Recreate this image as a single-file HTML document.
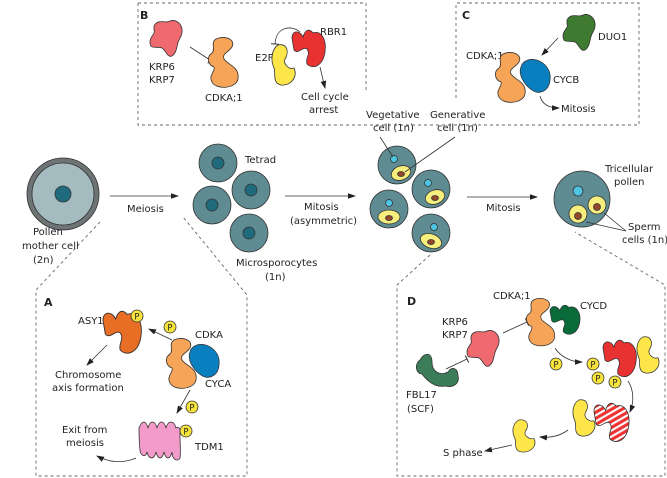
<!DOCTYPE html>
<html><head><meta charset="utf-8"><style>
html,body{margin:0;padding:0;background:#fff}
svg{display:block}
text{font-family:"DejaVu Sans","Liberation Sans",sans-serif;font-size:10px;fill:#222}
.b{font-weight:bold;font-size:11px}
.p{font-size:8.5px;text-anchor:middle}
.d{fill:none;stroke:#666;stroke-width:0.9;stroke-dasharray:3,3}
.l{fill:none;stroke:#333;stroke-width:0.8}
.s{stroke:#333;stroke-width:0.8}
</style></head><body>
<svg width="667" height="478" viewBox="0 0 667 478" xmlns="http://www.w3.org/2000/svg">
<defs>
<marker id="ar" markerWidth="8" markerHeight="8" refX="7" refY="4" orient="auto" markerUnits="userSpaceOnUse"><path d="M0,1.2 L8,4 L0,6.8 Z" fill="#222"/></marker>
<marker id="inh" markerWidth="2" markerHeight="8" refX="1" refY="4" orient="auto" markerUnits="userSpaceOnUse"><path d="M1,0 L1,8" stroke="#333" stroke-width="1"/></marker>
<path id="cdk" d="M8,2 C16,-2 28,2 24,10 C20,16 14,16 16,22 C20,28 32,30 30,42 C28,52 8,53 4,45 C0,38 8,34 6,30 C0,28 -2,20 4,16 C8,12 2,6 8,2 Z"/>
<path id="cyc" d="M8,0 C18,-3 32,6 30,20 C29,32 18,35 12,30 C4,25 -2,14 1,7 C2,3 5,1 8,0 Z"/>
<path id="krp" d="M4,6 C8,-2 16,4 20,1 C28,-2 36,8 30,18 C26,24 28,32 22,36 C17,38 16,30 12,28 C6,26 0,30 0,22 C0,16 6,14 4,10 Z"/>
<path id="rbr" d="M0,8 C0,0 8,0 11,7 C13,0 17,-2 21,3 C28,0 35,8 33,22 C31,36 21,40 15,34 C13,28 19,25 15,19 C11,16 6,25 2,20 Z"/>
<path id="e2f" d="M6,0 C16,-2 17,8 13,14 C11,19 17,25 22,23 C26,32 19,41 9,40 C0,38 4,29 2,23 C-2,14 0,4 6,0 Z"/>
<pattern id="hatch" width="5" height="5" patternUnits="userSpaceOnUse" patternTransform="rotate(-30)"><rect width="5" height="5" fill="#e33"/><rect y="0" width="5" height="2" fill="#fff"/></pattern>
</defs>

<path class="d" d="M138,3 L366,3 L366,90 M138,3 L138,125 L639,125 L639,3 L456,3 L456,100"/>
<path class="d" d="M100,222 L36,290 L36,476 L247,476 L247,295 L183,217"/>
<path class="d" d="M430,255 L397,285 L397,476 L665,476 L665,285 L575,232"/>

<circle cx="63" cy="194" r="36" fill="#6e7375" class="s"/>
<circle cx="63" cy="194" r="31" fill="#a4bcc0" class="s"/>
<circle cx="63" cy="194" r="8" fill="#1f6a7d" class="s"/>
<text x="33" y="235">Pollen</text><text x="22" y="249">mother cell</text><text x="33" y="263">(2n)</text>

<line class="l" x1="110" y1="196" x2="178" y2="196" marker-end="url(#ar)"/>
<text x="127" y="212">Meiosis</text>

<g fill="#5f8b92" class="s">
<circle cx="218" cy="163" r="19"/><circle cx="251" cy="190" r="19"/><circle cx="212" cy="205" r="19"/><circle cx="249" cy="233" r="19"/></g>
<g fill="#1f6a7d" class="s">
<circle cx="218" cy="163" r="6"/><circle cx="251" cy="190" r="6"/><circle cx="212" cy="205" r="6"/><circle cx="249" cy="233" r="6"/></g>
<text x="245" y="163">Tetrad</text>
<text x="236" y="266">Microsporocytes</text><text x="265" y="280">(1n)</text>

<line class="l" x1="285" y1="196" x2="355" y2="196" marker-end="url(#ar)"/>
<text x="304" y="210">Mitosis</text><text x="290" y="224">(asymmetric)</text>

<g class="s">
<g transform="translate(397,165)"><circle r="19" fill="#5f8b92"/><circle cx="-3" cy="-6" r="3.5" fill="#4cc4e2"/><ellipse cx="4" cy="8" rx="10" ry="7" fill="#f6ef7e" transform="rotate(-20 4 8)"/><ellipse cx="4" cy="9" rx="3.5" ry="2.5" fill="#93472a"/></g>
<g transform="translate(431,189)"><circle r="19" fill="#5f8b92"/><circle cx="-3" cy="-6" r="3.5" fill="#4cc4e2"/><ellipse cx="4" cy="8" rx="10" ry="7" fill="#f6ef7e" transform="rotate(-20 4 8)"/><ellipse cx="4" cy="9" rx="3.5" ry="2.5" fill="#93472a"/></g>
<g transform="translate(389,209)"><circle r="19" fill="#5f8b92"/><circle cx="0" cy="-6" r="3.5" fill="#4cc4e2"/><ellipse cx="0" cy="8" rx="11" ry="7" fill="#f6ef7e"/><ellipse cx="0" cy="9" rx="3.5" ry="2.5" fill="#93472a"/></g>
<g transform="translate(431,233)"><circle r="19" fill="#5f8b92"/><circle cx="3" cy="-6" r="3.5" fill="#4cc4e2"/><ellipse cx="0" cy="8" rx="11" ry="7" fill="#f6ef7e" transform="rotate(20 0 8)"/><ellipse cx="0" cy="9" rx="3.5" ry="2.5" fill="#93472a"/></g>
</g>
<text x="366" y="118">Vegetative</text><text x="373" y="131">cell (1n)</text>
<text x="430" y="118">Generative</text><text x="437" y="131">cell (1n)</text>
<line class="l" x1="380" y1="137" x2="393" y2="157"/>
<line class="l" x1="455" y1="137" x2="405" y2="172"/>

<line class="l" x1="467" y1="197" x2="537" y2="197" marker-end="url(#ar)"/>
<text x="486" y="211">Mitosis</text>

<g class="s">
<circle cx="582" cy="199" r="28" fill="#5f8b92"/>
<circle cx="578" cy="191" r="5" fill="#4cc4e2"/>
<circle cx="578" cy="214" r="9" fill="#f6ef7e"/><circle cx="578" cy="216" r="3.5" fill="#93472a"/>
<circle cx="597" cy="205" r="9" fill="#f6ef7e"/><circle cx="597" cy="207" r="3.5" fill="#93472a"/>
</g>
<text x="605" y="172">Tricellular</text><text x="614" y="185">pollen</text>
<text x="628" y="230">Sperm</text><text x="622" y="243">cells (1n)</text>
<path class="l" d="M586,222 L626,231 M604,213 L626,231"/>

<text x="140" y="19" class="b">B</text>
<use href="#krp" transform="translate(150,20)" fill="#ef6a6e" class="s"/>
<text x="149" y="70">KRP6</text><text x="149" y="83">KRP7</text>
<line class="l" x1="190" y1="47" x2="210" y2="60" marker-end="url(#inh)"/>
<use href="#cdk" transform="translate(208,37)" fill="#f6a457" class="s"/>
<text x="205" y="101">CDKA;1</text>
<use href="#e2f" transform="translate(272,45)" fill="#fde64a" class="s"/>
<use href="#rbr" transform="translate(292,30)" fill="#e83232" class="s"/>
<text x="255" y="61">E2F</text><text x="320" y="35">RBR1</text>
<path class="l" d="M300,32 C292,25 276,26 275,44" marker-end="url(#inh)"/>
<line class="l" x1="320" y1="67" x2="325" y2="88" marker-end="url(#ar)"/>
<text x="301" y="100">Cell cycle</text><text x="309" y="113">arrest</text>

<text x="462" y="19" class="b">C</text>
<use href="#krp" transform="translate(563,14)" fill="#3e7a30" class="s"/>
<text x="598" y="40">DUO1</text>
<line class="l" x1="558" y1="38" x2="542" y2="55" marker-end="url(#ar)"/>
<text x="466" y="59">CDKA;1</text>
<use href="#cdk" transform="translate(495,52)" fill="#f6a457" class="s"/>
<use href="#cyc" transform="translate(520,60)" fill="#0a7fc0" class="s"/>
<text x="553" y="83">CYCB</text>
<path class="l" d="M540,96 C542,104 548,108 559,108" marker-end="url(#ar)"/>
<text x="561" y="112">Mitosis</text>

<text x="44" y="306" class="b">A</text>
<use href="#rbr" transform="translate(103,311) scale(1.15)" fill="#e96e25" class="s"/>
<circle cx="137" cy="316" r="6" fill="#f6e43c" class="s"/><text x="137" y="319.5" class="p">P</text>
<text x="78" y="324">ASY1</text>
<line class="l" x1="172" y1="340" x2="149" y2="329" marker-end="url(#ar)"/>
<circle cx="170" cy="327" r="6" fill="#f6e43c" class="s"/><text x="170" y="330.5" class="p">P</text>
<use href="#cdk" transform="translate(166,338)" fill="#f6a457" class="s"/>
<use href="#cyc" transform="translate(189,345)" fill="#0a7fc0" class="s"/>
<text x="195" y="338">CDKA</text><text x="205" y="387">CYCA</text>
<line class="l" x1="107" y1="345" x2="87" y2="365" marker-end="url(#ar)"/>
<text x="55" y="378">Chromosome</text><text x="52" y="391">axis formation</text>
<line class="l" x1="190" y1="390" x2="177" y2="413" marker-end="url(#ar)"/>
<circle cx="192" cy="407" r="6" fill="#f6e43c" class="s"/><text x="192" y="410.5" class="p">P</text>
<path d="M139,428 C142,420 146,420 148,428 C150,420 155,420 157,428 C159,420 164,420 166,428 C168,420 174,420 176,428 C178,426 181,428 180,434 C180,446 181,452 180,458 C178,462 172,460 172,452 C170,460 166,460 164,452 C162,460 158,460 156,452 C154,460 149,460 147,452 C146,458 140,456 140,450 C139,442 139,434 139,428 Z" fill="#f29ac9" class="s"/>
<circle cx="186" cy="431" r="6" fill="#f6e43c" class="s"/><text x="186" y="434.5" class="p">P</text>
<text x="195" y="450">TDM1</text>
<text x="62" y="433">Exit from</text><text x="66" y="446">meiosis</text>
<path class="l" d="M136,458 C122,464 108,462 97,456" marker-end="url(#ar)"/>

<text x="407" y="305" class="b">D</text>
<text x="493" y="299">CDKA;1</text>
<use href="#cdk" transform="translate(526,298) scale(0.95)" fill="#f6a457" class="s"/>
<use href="#rbr" transform="translate(550,305) scale(0.9,0.8)" fill="#0a6b3a" class="s"/>
<text x="580" y="309">CYCD</text>
<text x="442" y="325">KRP6</text><text x="442" y="338">KRP7</text>
<use href="#krp" transform="translate(467,330)" fill="#ef6a6e" class="s"/>
<line class="l" x1="503" y1="333" x2="527" y2="322" marker-end="url(#inh)"/>
<path d="M420,360 C424,352 432,352 432,362 C432,372 440,376 448,372 C452,366 458,368 458,376 C460,384 452,388 446,386 C436,388 428,382 422,374 C416,374 414,364 420,360 Z" fill="#3a7d58" class="s"/>
<line class="l" x1="446" y1="369" x2="467" y2="359" marker-end="url(#inh)"/>
<text x="406" y="398">FBL17</text><text x="407" y="412">(SCF)</text>
<path class="l" d="M555,348 C560,356 570,362 582,362" marker-end="url(#ar)"/>
<circle cx="556" cy="364" r="6" fill="#f6e43c" class="s"/><text x="556" y="367.5" class="p">P</text>
<use href="#rbr" transform="translate(603,340)" fill="#e83232" class="s"/>
<use href="#e2f" transform="translate(637,337) scale(0.95,0.9)" fill="#fde64a" class="s"/>
<circle cx="593" cy="364" r="6" fill="#f6e43c" class="s"/><text x="593" y="367.5" class="p">P</text>
<circle cx="598" cy="378" r="6" fill="#f6e43c" class="s"/><text x="598" y="381.5" class="p">P</text>
<circle cx="615" cy="382" r="6" fill="#f6e43c" class="s"/><text x="615" y="385.5" class="p">P</text>
<path class="l" d="M628,381 C634,390 634,402 630,412" marker-end="url(#ar)"/>
<use href="#e2f" transform="translate(573,400) scale(0.95,0.9)" fill="#fde64a" class="s"/>
<use href="#rbr" transform="translate(594,403) scale(1.05)" fill="url(#hatch)" class="s"/>
<path class="l" d="M568,430 C560,436 550,438 540,437" marker-end="url(#ar)"/>
<use href="#e2f" transform="translate(513,420) scale(0.95,0.8)" fill="#fde64a" class="s"/>
<line class="l" x1="512" y1="445" x2="485" y2="451" marker-end="url(#ar)"/>
<text x="443" y="456">S phase</text>
</svg>
</body></html>
